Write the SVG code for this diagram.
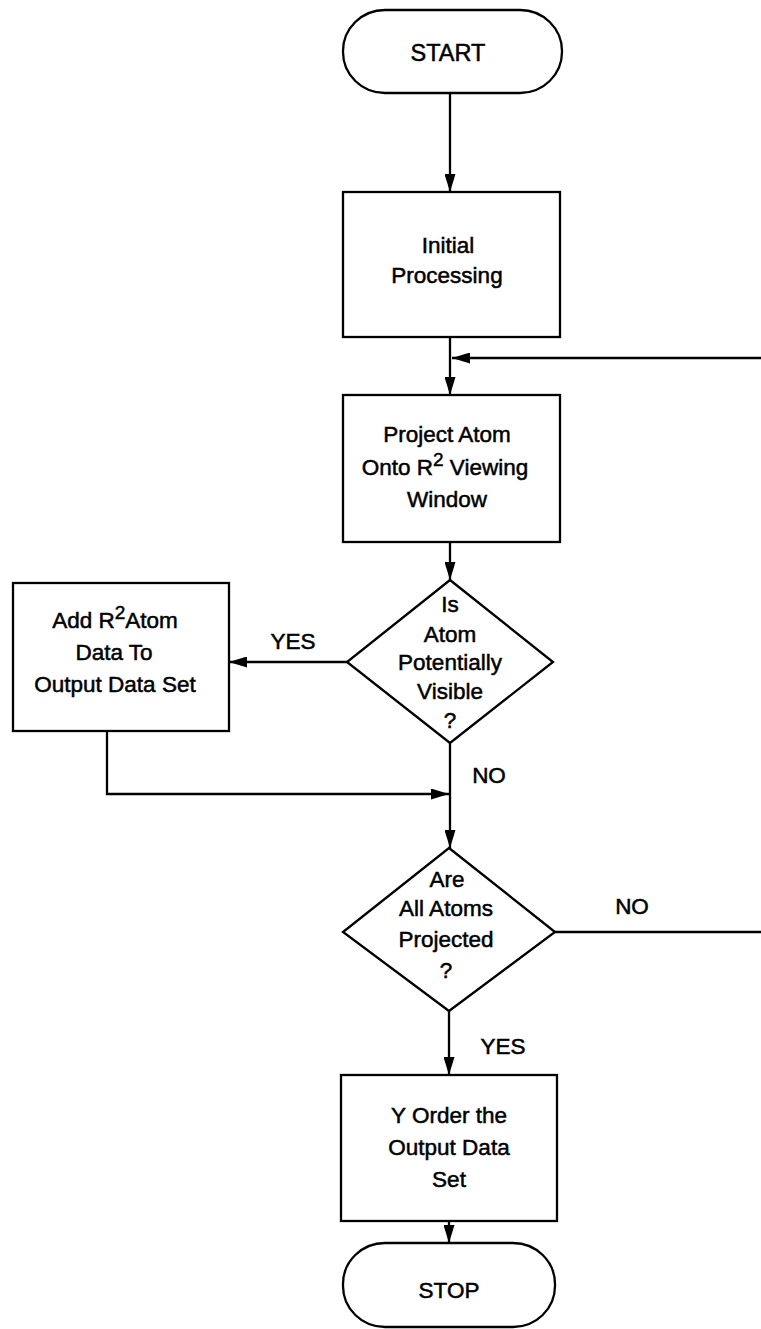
<svg xmlns="http://www.w3.org/2000/svg" width="761" height="1329" viewBox="0 0 761 1329">
  <style>
    .shape { fill: #fff; stroke: #000; stroke-width: 2.3; }
    .wire { fill: none; stroke: #000; stroke-width: 2.3; }
    .label { font-family: "Liberation Sans", Arial, sans-serif; font-size: 22.5px; fill: #000; stroke: #000; stroke-width: 0.5; text-anchor: middle; }
    .sup { font-size: 19px; }
  </style>
  <defs>
    <marker id="arrow" viewBox="0 0 18 11" refX="18" refY="5.5" markerWidth="18" markerHeight="11" markerUnits="userSpaceOnUse" orient="auto">
      <path d="M0,0 L18,5.5 L0,11 Z" fill="#000"/>
    </marker>
  </defs>

  <rect width="761" height="1329" fill="#fff"/>

  <!-- connectors -->
  <g id="connectors">
    <line class="wire" x1="450" y1="93" x2="450" y2="192" marker-end="url(#arrow)"/>
    <line class="wire" x1="450" y1="337" x2="450" y2="395" marker-end="url(#arrow)"/>
    <line class="wire" x1="761" y1="358" x2="452" y2="358" marker-end="url(#arrow)"/>
    <line class="wire" x1="450" y1="542" x2="450" y2="580" marker-end="url(#arrow)"/>
    <line class="wire" x1="347" y1="662" x2="229" y2="662" marker-end="url(#arrow)"/>
    <polyline class="wire" points="107,731 107,794 449,794" marker-end="url(#arrow)"/>
    <line class="wire" x1="450" y1="743" x2="450" y2="848" marker-end="url(#arrow)"/>
    <line class="wire" x1="555" y1="932" x2="761" y2="932"/>
    <line class="wire" x1="449" y1="1011" x2="449" y2="1075" marker-end="url(#arrow)"/>
    <line class="wire" x1="449" y1="1221" x2="449" y2="1243" marker-end="url(#arrow)"/>
    <text class="label" x="293" y="649">YES</text>
    <text class="label" x="489" y="783">NO</text>
    <text class="label" x="632" y="914">NO</text>
    <text class="label" x="503" y="1054">YES</text>
  </g>

  <!-- START terminal -->
  <g id="start">
    <rect class="shape" x="343" y="10" width="219" height="83" rx="42" ry="41"/>
    <text class="label" x="448" y="61" style="font-size:23.5px">START</text>
  </g>

  <!-- Initial processing -->
  <g id="initial">
    <rect class="shape" x="343" y="192" width="217" height="145"/>
    <text class="label" x="448" y="253">Initial</text>
    <text class="label" x="447" y="283">Processing</text>
  </g>

  <!-- Projection step -->
  <g id="project">
    <rect class="shape" x="343" y="395" width="217" height="147"/>
    <text class="label" x="447" y="442">Project Atom</text>
    <text class="label" x="445" y="475">Onto R<tspan class="sup" dy="-9">2</tspan><tspan dy="9"> Viewing</tspan></text>
    <text class="label" x="447" y="507">Window</text>
  </g>

  <!-- Visibility decision -->
  <g id="visible">
    <polygon class="shape" points="450,580 553,662 450,743 347,662"/>
    <text class="label" x="450" y="612">Is</text>
    <text class="label" x="450" y="642">Atom</text>
    <text class="label" x="450" y="670">Potentially</text>
    <text class="label" x="450" y="699">Visible</text>
    <text class="label" x="450" y="728">?</text>
  </g>

  <!-- Add to output -->
  <g id="add">
    <rect class="shape" x="13" y="583" width="216" height="148"/>
    <text class="label" x="115" y="628">Add R<tspan class="sup" dy="-9">2</tspan><tspan dy="9">Atom</tspan></text>
    <text class="label" x="114" y="660">Data To</text>
    <text class="label" x="115" y="692">Output Data Set</text>
  </g>

  <!-- All projected decision -->
  <g id="all-projected">
    <polygon class="shape" points="449,848 555,932 449,1011 343,932"/>
    <text class="label" x="447" y="887">Are</text>
    <text class="label" x="446" y="916">All Atoms</text>
    <text class="label" x="446" y="947">Projected</text>
    <text class="label" x="446" y="978">?</text>
  </g>

  <!-- Y ordering -->
  <g id="y-order">
    <rect class="shape" x="341" y="1075" width="216" height="146"/>
    <text class="label" x="449" y="1123">Y Order the</text>
    <text class="label" x="449" y="1155">Output Data</text>
    <text class="label" x="449" y="1187">Set</text>
  </g>

  <!-- STOP terminal -->
  <g id="stop">
    <rect class="shape" x="343" y="1243" width="212" height="84" rx="42" ry="41"/>
    <text class="label" x="449" y="1298">STOP</text>
  </g>
</svg>
